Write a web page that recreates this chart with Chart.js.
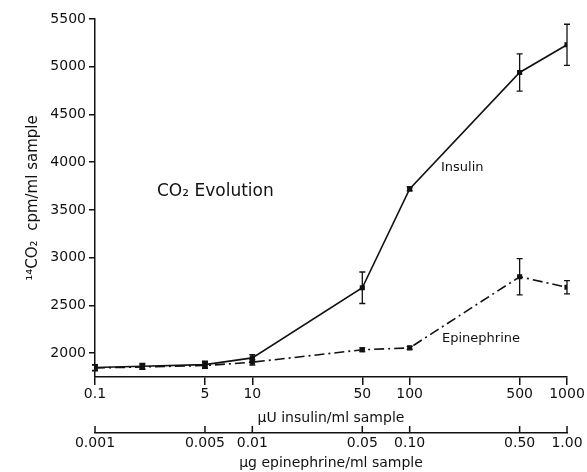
<!DOCTYPE html>
<html>
<head>
<meta charset="utf-8">
<script src="https://cdn.jsdelivr.net/npm/chart.js@4"></script>
<style>
  html, body { margin: 0; padding: 0; background: #fff; }
  #wrap { width: 587px; height: 472px; position: relative; }
</style>
</head>
<body>
<div id="wrap"><canvas id="graphic"></canvas></div>
<script>
// plotting positions on the log axis (insulin scale)
const doses = [1, 2, 5, 10, 50, 100, 500, 1000];
const insulin = [1850, 1862, 1880, 1950, 2685, 3720, 4940, 5230];
const insulinErr = [30, 30, 35, 35, 165, 20, 195, 215];
const epinephrine = [1845, 1855, 1870, 1905, 2035, 2055, 2800, 2690];
const epinephrineErr = [30, 25, 30, 30, 20, 15, 190, 70];

const xTickVals = [1, 5, 10, 50, 100, 500, 1000];
const insulinLabels = ['0.1', '5', '10', '50', '100', '500', '1000'];
const epiLabels = ['0.001', '0.005', '0.01', '0.05', '0.10', '0.50', '1.00'];
const yTickVals = [2000, 2500, 3000, 3500, 4000, 4500, 5000, 5500];

const ink = '#111';
const font = "'DejaVu Sans', sans-serif";

//Error bars, upward ticks of the lower axis and the labels
const extras = {
    id: 'extras',
    afterDatasetsDraw(chart) {
        const ctx = chart.ctx;
        const x = chart.scales.x, y = chart.scales.y;
        const vals = [insulin, epinephrine];
        const errs = [insulinErr, epinephrineErr];
        ctx.save();
        ctx.strokeStyle = ink;
        ctx.lineWidth = 1.3;
        for (let i = 0; i < vals.length; i++) {
            for (let j = 0; j < doses.length; j++) {
                const px = x.getPixelForValue(doses[j]);
                const top = y.getPixelForValue(vals[i][j] + errs[i][j]);
                const bot = y.getPixelForValue(vals[i][j] - errs[i][j]);
                ctx.beginPath();
                ctx.moveTo(px, top); ctx.lineTo(px, bot);
                ctx.moveTo(px - 3, top); ctx.lineTo(px + 3, top);
                ctx.moveTo(px - 3, bot); ctx.lineTo(px + 3, bot);
                ctx.stroke();
            }
        }
        const x2 = chart.scales.x2;
        ctx.lineWidth = 1.5;
        xTickVals.forEach(v => {
            const px = x2.getPixelForValue(v);
            ctx.beginPath();
            ctx.moveTo(px, x2.top);
            ctx.lineTo(px, x2.top - 7);
            ctx.stroke();
        });
        ctx.fillStyle = ink;
        ctx.textAlign = 'left';
        ctx.textBaseline = 'middle';
        ctx.font = "17px " + font;
        ctx.fillText('CO₂ Evolution', 157, 192);
        ctx.font = "13px " + font;
        ctx.fillText('Insulin', 441, 168);
        ctx.fillText('Epinephrine', 442, 339);
        ctx.restore();
    }
};

const chartElement = document.getElementById('graphic');
const newChart = new Chart(chartElement, {
    type: 'line',
    data: {
        labels: doses,
        datasets: [{
            label: 'Insulin',
            data: doses.map((d, i) => ({x: d, y: insulin[i]})),
            borderColor: ink,
            backgroundColor: ink,
            borderWidth: 1.6,
            pointStyle: 'rect',
            pointRadius: 2.5,
            tension: 0
        }, {
            label: 'Epinephrine',
            data: doses.map((d, i) => ({x: d, y: epinephrine[i]})),
            borderColor: ink,
            backgroundColor: ink,
            borderWidth: 1.6,
            borderDash: [10, 4, 2, 4],
            pointStyle: 'rect',
            pointRadius: 2.5,
            tension: 0
        }]
    },
    options: {
        responsive: true,
        maintainAspectRatio: false,
        animation: false,
        layout: { padding: { top: 19, right: 20, left: 20, bottom: 0 } },
        plugins: {
            legend: { display: false },
            tooltip: { enabled: false }
        },
        scales: {
            x: {
                type: 'logarithmic',
                position: 'bottom',
                min: 1,
                max: 1000,
                afterBuildTicks: s => { s.ticks = xTickVals.map(v => ({value: v})); },
                afterFit: s => { s.height = 56; },
                ticks: {
                    autoSkip: false,
                    maxRotation: 0,
                    color: ink,
                    font: { family: font, size: 14 },
                    padding: 1,
                    callback: (v) => insulinLabels[xTickVals.indexOf(v)]
                },
                grid: { drawOnChartArea: false, tickLength: 8, color: ink, lineWidth: 1.5 },
                border: { color: ink, width: 1.5 },
                title: {
                    display: true,
                    text: 'μU insulin/ml sample',
                    color: ink,
                    font: { family: font, size: 14 },
                    padding: { top: 0, bottom: 6 }
                }
            },
            x2: {
                type: 'logarithmic',
                position: 'bottom',
                min: 1,
                max: 1000,
                afterBuildTicks: s => { s.ticks = xTickVals.map(v => ({value: v})); },
                afterFit: s => { s.height = 39; },
                ticks: {
                    autoSkip: false,
                    maxRotation: 0,
                    color: ink,
                    font: { family: font, size: 14 },
                    padding: 2,
                    callback: (v) => epiLabels[xTickVals.indexOf(v)]
                },
                grid: { drawOnChartArea: false, drawTicks: false, color: ink },
                border: { color: ink, width: 1.5 },
                title: {
                    display: true,
                    text: 'μg epinephrine/ml sample',
                    color: ink,
                    font: { family: font, size: 14 },
                    padding: { top: 3, bottom: 0 }
                }
            },
            y: {
                min: 1750,
                max: 5500,
                afterBuildTicks: s => { s.ticks = yTickVals.map(v => ({value: v})); },
                afterFit: s => { s.width = 75; },
                ticks: {
                    color: ink,
                    font: { family: font, size: 14 },
                    padding: 3,
                    callback: (v) => String(v)
                },
                grid: { drawOnChartArea: false, tickLength: 6, color: ink, lineWidth: 1.5 },
                border: { color: ink, width: 1.5 },
                title: {
                    display: true,
                    text: '¹⁴CO₂  cpm/ml sample',
                    color: ink,
                    font: { family: font, size: 15 },
                    padding: { bottom: 2 }
                }
            }
        }
    },
    plugins: [extras]
});
</script>
</body>
</html>
